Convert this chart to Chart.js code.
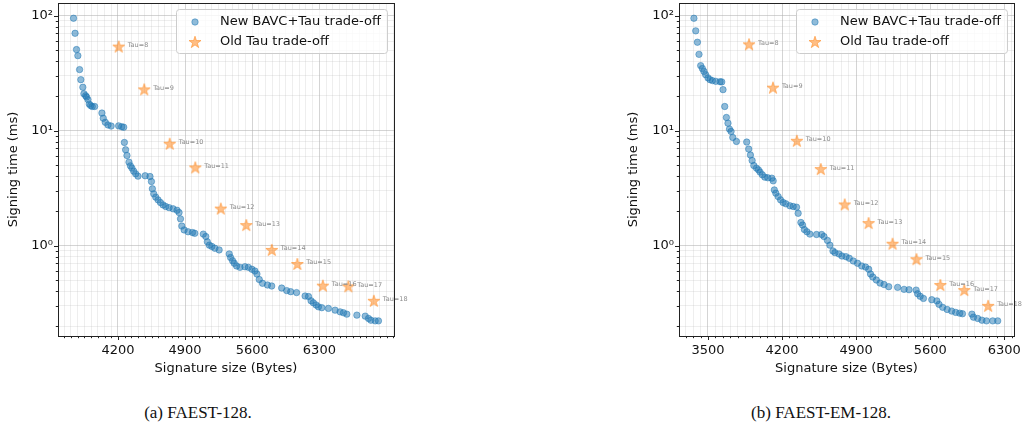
<!DOCTYPE html>
<html>
<head>
<meta charset="utf-8">
<script src="https://cdn.jsdelivr.net/npm/chart.js@4.4.1/dist/chart.umd.min.js"></script>
<style>
  html, body { margin: 0; padding: 0; background: #fff; width: 1024px; height: 425px; overflow: hidden; }
  canvas { position: absolute; top: 0; }
  #faestChart { left: 0; }
  #emChart { left: 620px; }
  .cap {
    position: absolute; top: 404px; width: 220px; text-align: center;
    font-family: "Liberation Serif", "DejaVu Serif", serif; font-size: 17px; line-height: 17px; color: #111;
  }
</style>
</head>
<body>
<canvas id="faestChart" width="410" height="385"></canvas>
<canvas id="emChart" width="404" height="385"></canvas>
<div class="cap" style="left:88px">(a) FAEST-128.</div>
<div class="cap" style="left:711px">(b) FAEST-EM-128.</div>

<script>
// ---- FAEST-128: new BAVC+Tau parameter sets (size in bytes, signing time in ms)
const faestNewSize = [3737,3753,3768,3782,3800,3813,3834,3845,3863,3873,
  3887,3901,3915,3932,3957,4033,4047,4068,4096,4129,
  4207,4239,4260,4267,4280,4294,4315,4330,4346,4364,
  4385,4409,4484,4534,4549,4559,4573,4594,4618,4643,
  4670,4698,4733,4775,4816,4837,4852,4866,4890,4931,
  4977,5001,5090,5116,5132,5153,5179,5210,5255,5360,
  5374,5395,5412,5437,5472,5524,5560,5597,5628,5649,
  5673,5707,5759,5803,5907,5959,6001,6062,6151,6187,
  6213,6237,6266,6290,6325,6394,6464,6516,6551,6586,
  6691,6778,6812,6837,6882,6916];
const faestNewTime = [94.7,70.1,50.6,44.8,33.9,27.7,23.8,20.9,20.1,19.6,
  18.6,17.0,16.5,16.2,16.2,14.2,12.8,11.8,11.2,10.95,
  11.0,10.8,10.7,7.89,6.81,6.08,5.32,4.94,4.72,4.44,
  4.21,4.02,4.05,3.99,3.61,3.12,2.82,2.64,2.50,2.37,
  2.26,2.19,2.14,2.09,2.03,1.94,1.71,1.48,1.37,1.32,
  1.30,1.28,1.26,1.20,1.08,1.01,0.984,0.949,0.918,0.847,
  0.789,0.740,0.703,0.666,0.648,0.656,0.648,0.623,0.602,0.567,
  0.508,0.471,0.455,0.446,0.428,0.407,0.398,0.391,0.365,0.361,
  0.332,0.319,0.305,0.294,0.289,0.285,0.275,0.266,0.261,0.254,
  0.249,0.244,0.233,0.225,0.222,0.222];

// ---- FAEST-128: old Tau trade-off
const tauValues = [8, 9, 10, 11, 12, 13, 14, 15, 16, 17, 18];
const faestOldSize = [4208,4474,4740,5006,5272,5538,5804,6070,6336,6602,6868];
const faestOldTime = [53.7,22.8,7.69,4.78,2.10,1.51,0.918,0.693,0.449,0.443,0.332];

// ---- FAEST-EM-128: new BAVC+Tau parameter sets
const emNewSize = [3367,3384,3400,3415,3431,3447,3462,3478,3500,3519,
  3542,3573,3614,3630,3642,3658,3674,3689,3703,3718,
  3734,3769,3866,3885,3901,3917,3933,3958,3977,3992,
  4013,4037,4065,4103,4116,4127,4141,4163,4186,4210,
  4236,4274,4305,4337,4352,4378,4394,4411,4435,4463,
  4526,4574,4596,4629,4652,4681,4700,4738,4766,4804,
  4835,4873,4913,4953,4989,5019,5036,5057,5091,5126,
  5164,5208,5292,5353,5400,5467,5481,5505,5536,5615,
  5663,5683,5718,5760,5803,5841,5879,5905,5994,6009,
  6049,6089,6132,6191,6238];
const emNewTime = [94.7,73.6,58.6,46.0,36.7,34.6,32.7,30.6,28.7,27.7,
  27.2,26.8,26.6,26.5,22.7,16.2,13.0,11.6,10.3,9.83,
  8.72,8.05,7.95,6.91,6.13,5.50,4.97,4.72,4.56,4.36,
  4.13,3.94,3.89,3.86,3.66,3.05,2.86,2.67,2.50,2.37,
  2.31,2.22,2.19,2.16,1.91,1.59,1.51,1.38,1.32,1.26,
  1.25,1.25,1.20,1.11,1.01,0.899,0.869,0.847,0.813,0.802,
  0.777,0.736,0.703,0.666,0.652,0.623,0.567,0.534,0.503,0.473,
  0.459,0.440,0.434,0.417,0.414,0.411,0.382,0.363,0.348,0.339,
  0.331,0.309,0.291,0.279,0.270,0.263,0.259,0.256,0.254,0.239,
  0.233,0.225,0.222,0.222,0.222];

// ---- FAEST-EM-128: old Tau trade-off
const emOldSize = [3888,4114,4340,4566,4792,5018,5244,5470,5696,5922,6148];
const emOldTime = [56.2,23.6,8.16,4.63,2.28,1.57,1.04,0.762,0.455,0.411,0.300];

// ---- axis ticks
const faestSizeTicks = [4200, 4900, 5600, 6300];
const emSizeTicks = [3500, 4200, 4900, 5600, 6300];
const sizeMinorStep = 70;
const timeTickValues = [1, 10, 100];
const timeTickLabels = ['10\u2070', '10\u00b9', '10\u00b2'];

const seriesNames = ['New BAVC+Tau trade-off', 'Old Tau trade-off'];
const axisFont = 'DejaVu Sans';
const inkColor = '#111';
const majorGrid = 'rgba(176,176,176,0.55)';
const minorGrid = 'rgba(176,176,176,0.22)';
const blueFill = 'rgba(31,119,180,0.5)';
const orangeFill = 'rgba(255,127,14,0.5)';

// filled five-pointed star used as a point style
function makeStar(R, color) {
  const size = Math.ceil(R * 2 + 3);
  const c = document.createElement('canvas');
  c.width = c.height = size;
  const g = c.getContext('2d');
  const cx = size / 2, cy = size / 2 + 0.5;
  g.beginPath();
  for (let i = 0; i < 10; i++) {
    const r = i % 2 === 0 ? R : R * 0.381966;
    const a = -Math.PI / 2 + i * Math.PI / 5;
    g.lineTo(cx + r * Math.cos(a), cy + r * Math.sin(a));
  }
  g.closePath();
  g.fillStyle = color; g.fill();
  g.strokeStyle = color; g.lineWidth = 1; g.stroke();
  return c;
}
const starImg = makeStar(6.3, orangeFill);

function logTicks(min, max) {
  const out = [];
  for (let e = -1; e <= 2; e++) {
    for (let m = 1; m <= 9; m++) {
      const v = parseFloat((m * Math.pow(10, e)).toPrecision(3));
      if (v >= min && v <= max) out.push({ value: v, major: timeTickValues.includes(v) });
    }
  }
  return out;
}
function sizeTicks(min, max, majors) {
  const out = [];
  for (let v = Math.ceil(min / sizeMinorStep) * sizeMinorStep; v <= max; v += sizeMinorStep) {
    out.push({ value: v, major: majors.includes(v) });
  }
  return out;
}
function toPoints(xs, ys) { return xs.map((x, i) => ({ x: x, y: ys[i] })); }

// frame, tick marks, tau annotations and the boxed legend
const decor = {
  id: 'decor',
  afterDatasetsDraw(chart) {
    const ctx = chart.ctx;
    const meta = chart.getDatasetMeta(1);
    ctx.save();
    ctx.font = '6.5px "DejaVu Sans"';
    ctx.fillStyle = '#8c8c8c';
    ctx.textBaseline = 'alphabetic';
    ctx.textAlign = 'left';
    meta.data.forEach((pt, i) => {
      ctx.fillText('Tau=' + tauValues[i], pt.x + 9, pt.y + 0.5);
    });
    ctx.restore();
  },
  afterDraw(chart) {
    const ctx = chart.ctx;
    const a = chart.chartArea;
    const xs = chart.scales.x, ys = chart.scales.y;
    ctx.save();
    ctx.strokeStyle = '#222';
    ctx.lineWidth = 1;
    // tick marks
    ctx.beginPath();
    xs.ticks.forEach(t => {
      const px = Math.round(xs.getPixelForValue(t.value)) + 0.5;
      const len = t.major ? 4 : 2.2;
      ctx.moveTo(px, a.bottom); ctx.lineTo(px, a.bottom + len);
    });
    ys.ticks.forEach(t => {
      const py = Math.round(ys.getPixelForValue(t.value)) + 0.5;
      const len = t.major ? 4 : 2.2;
      ctx.moveTo(a.left - len, py); ctx.lineTo(a.left, py);
    });
    ctx.stroke();
    // frame
    ctx.strokeRect(Math.round(a.left) + 0.5, Math.round(a.top) + 0.5,
                   Math.round(a.right - a.left), Math.round(a.bottom - a.top));
    // legend
    ctx.font = '13px "DejaVu Sans"';
    const labels = chart.data.datasets.map(d => d.label);
    const textW = Math.max(...labels.map(l => ctx.measureText(l).width));
    const w = 44 + textW + 6, h = 44;
    const x0 = Math.round(a.right - 7 - w), y0 = Math.round(a.top + 6);
    ctx.beginPath();
    ctx.roundRect(x0 + 0.5, y0 + 0.5, w, h, 3);
    ctx.fillStyle = 'rgba(255,255,255,0.8)';
    ctx.fill();
    ctx.strokeStyle = '#cccccc';
    ctx.stroke();
    const ds = chart.data.datasets;
    // circle marker row
    ctx.beginPath();
    ctx.arc(x0 + 19, y0 + 13, ds[0].pointRadius, 0, Math.PI * 2);
    ctx.fillStyle = ds[0].backgroundColor; ctx.fill();
    ctx.strokeStyle = ds[0].borderColor; ctx.lineWidth = ds[0].borderWidth; ctx.stroke();
    // star marker row
    ctx.drawImage(starImg, x0 + 19 - starImg.width / 2, y0 + 33 - starImg.height / 2);
    ctx.fillStyle = inkColor;
    ctx.textBaseline = 'middle';
    ctx.textAlign = 'left';
    ctx.fillText(labels[0], x0 + 44, y0 + 13);
    ctx.fillText(labels[1], x0 + 44, y0 + 33);
    ctx.restore();
  }
};

function buildChart(id, cfg) {
  return new Chart(document.getElementById(id), {
    type: 'scatter',
    data: {
      datasets: [
        {
          label: seriesNames[0],
          data: toPoints(cfg.newSize, cfg.newTime),
          pointStyle: 'circle', pointRadius: 3.2, borderWidth: 1,
          backgroundColor: blueFill, borderColor: blueFill, order: 1
        },
        {
          label: seriesNames[1],
          data: toPoints(cfg.oldSize, cfg.oldTime),
          pointStyle: starImg, pointRadius: 6,
          backgroundColor: orangeFill, borderColor: orangeFill, order: 0
        }
      ]
    },
    options: {
      responsive: false, animation: false, devicePixelRatio: 1, events: [],
      layout: { autoPadding: false, padding: { left: 0, top: 3, right: cfg.padRight, bottom: 0 } },
      plugins: { legend: { display: false }, tooltip: { enabled: false } },
      scales: {
        x: {
          type: 'linear', position: 'bottom', min: cfg.xMin, max: cfg.xMax, bounds: 'data',
          afterBuildTicks: s => { s.ticks = sizeTicks(cfg.xMin, cfg.xMax, cfg.xTicks); },
          afterFit: s => { s.height = 49; s.paddingLeft = 0; s.paddingRight = 0; },
          grid: { color: c => (c.tick && c.tick.major) ? majorGrid : minorGrid, lineWidth: 1, drawTicks: false },
          border: { display: false },
          ticks: {
            autoSkip: false, maxRotation: 0, minRotation: 0, padding: 7, color: inkColor,
            font: { family: axisFont, size: 13 },
            callback: v => cfg.xTicks.includes(v) ? String(v) : ''
          },
          title: { display: true, text: 'Signature size (Bytes)', color: inkColor,
                   font: { family: axisFont, size: 13 }, padding: { top: 0, bottom: 9 } }
        },
        y: {
          type: 'logarithmic', min: 0.164, max: 128.5, bounds: 'data',
          afterBuildTicks: s => { s.ticks = logTicks(0.164, 128.5); },
          afterFit: s => { s.width = cfg.yWidth; s.paddingTop = 0; s.paddingBottom = 0; },
          grid: { color: c => (c.tick && c.tick.major) ? majorGrid : minorGrid, lineWidth: 1, drawTicks: false },
          border: { display: false },
          ticks: {
            autoSkip: false, padding: 5, color: inkColor,
            font: { family: axisFont, size: 13 },
            callback: v => {
              const i = timeTickValues.indexOf(v);
              return i >= 0 ? timeTickLabels[i] : '';
            }
          },
          title: { display: true, text: 'Signing time (ms)', color: inkColor,
                   font: { family: axisFont, size: 13 }, padding: { top: 6, bottom: 0 } }
        }
      }
    },
    plugins: [decor]
  });
}

buildChart('faestChart', {
  newSize: faestNewSize, newTime: faestNewTime,
  oldSize: faestOldSize, oldTime: faestOldTime,
  xMin: 3575, xMax: 7078, xTicks: faestSizeTicks,
  yWidth: 58, padRight: 16
});
buildChart('emChart', {
  newSize: emNewSize, newTime: emNewTime,
  oldSize: emOldSize, oldTime: emOldTime,
  xMin: 3226, xMax: 6392, xTicks: emSizeTicks,
  yWidth: 59, padRight: 10
});
</script>
</body>
</html>
